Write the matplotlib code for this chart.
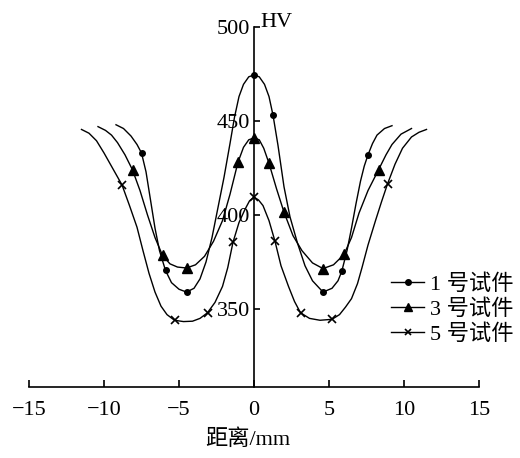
import matplotlib
matplotlib.use('Agg')
import matplotlib.pyplot as plt

plt.rcParams['font.family'] = ['Liberation Serif', 'Noto Sans CJK SC']
plt.rcParams['font.size'] = 16

# specimen 1 (circles) - curve
s1_x = [-9.2, -8.7, -8.2, -7.8, -7.5, -7.2, -6.9, -6.6, -6.3, -5.9, -5.5, -5.0, -4.5,
        -4.0, -3.6, -3.2, -2.8, -2.4, -2.0, -1.6, -1.3, -1.0, -0.7, -0.35, 0,
        0.35, 0.7, 1.0, 1.27, 1.6, 2.0, 2.4, 2.9, 3.4, 3.9, 4.6, 5.2, 5.6, 5.85,
        6.2, 6.5, 6.8, 7.1, 7.35, 7.6, 7.9, 8.2, 8.7, 9.2]
s1_y = [448, 446, 442, 437.5, 433, 423, 408, 393, 381, 370.5, 364, 360.5, 359,
        361, 366, 375, 388, 404, 420, 438, 452, 463, 469.5, 473.5, 474.5,
        473.5, 469.5, 463, 453, 437, 415, 399, 385, 373, 365, 359, 361, 365, 370,
        381, 393, 406, 418, 426, 432, 438, 442.5, 446, 447.5]
s1_mx = [-7.5, -5.9, -4.5, 0, 1.27, 4.6, 5.85, 7.6]
s1_my = [433, 370.5, 359, 474.5, 453, 359, 370, 432]

# specimen 3 (triangles)
s3_x = [-10.4, -9.9, -9.5, -9.1, -8.6, -8.1, -7.6, -7.1, -6.6, -6.1, -5.6, -5.1, -4.5,
        -3.9, -3.3, -2.7, -2.1, -1.6, -1.07, -0.7, -0.35, 0,
        0.35, 0.65, 1.0, 1.5, 2.0, 2.6, 3.2, 3.9, 4.6, 5.3, 6.0, 6.5, 7.0, 7.6,
        8.3, 8.8, 9.2, 9.8, 10.5]
s3_y = [447, 445, 442.5, 438.5, 432, 424, 413, 400, 388, 378.5, 374, 372.3, 371.8,
        373.5, 378, 386, 397, 411, 428, 436, 440, 441,
        440, 435.5, 427.5, 414, 401.5, 389, 381, 374.5, 371.5, 373.5, 379, 388, 401, 413,
        424, 432, 437.5, 443, 446]
s3_mx = [-8.1, -6.1, -4.5, -1.07, 0, 1.0, 2.0, 4.6, 6.0, 8.3]
s3_my = [424, 378.5, 371.8, 428, 441, 427.5, 401.5, 371.5, 379, 424]

# specimen 5 (crosses)
s5_x = [-11.5, -11.0, -10.5, -10.0, -9.4, -8.8, -8.3, -7.8, -7.4, -7.0, -6.6, -6.2, -5.8,
        -5.3, -4.7, -4.1, -3.6, -3.1, -2.6, -2.1, -1.75, -1.4, -1.0, -0.6, -0.3, 0,
        0.3, 0.6, 1.0, 1.4, 1.8, 2.3, 2.7, 3.1, 3.7, 4.4, 5.2, 5.7, 6.1, 6.5, 6.9,
        7.2, 7.6, 8.1, 8.5, 8.9, 9.4, 9.9, 10.5, 11.0, 11.5]
s5_y = [445.5, 443.5, 439.5, 433, 424.5, 416, 405, 393.5, 381, 369, 359, 351.5, 347,
        344, 343.3, 343.5, 345, 348, 353.5, 362, 372, 385.5, 396, 403, 407.5, 409.5,
        408, 405, 397, 386, 373, 362, 354, 348, 345, 344, 344.5, 347, 351, 355.5, 363.5,
        372, 384, 397, 407, 416.5, 427, 435.5, 441.5, 444, 445.5]
s5_mx = [-8.8, -5.3, -3.1, -1.4, 0, 1.4, 3.1, 5.2, 8.9]
s5_my = [416, 344, 348, 385.5, 409.5, 386, 348, 344.5, 416.5]

labels = ['1 号试件', '3 号试件', '5 号试件']
x_ticks = [-15, -10, -5, 0, 5, 10, 15]
y_ticks = [350, 400, 450, 500]

fig = plt.figure(figsize=(5.2, 4.58), dpi=100)
ax = fig.add_axes([29 / 520, 1 - 387 / 458, 450 / 520, 360 / 458])

ax.plot(s1_x, s1_y, color='black', lw=1.0)
ax.plot(s1_mx, s1_my, 'o', color='black', ms=4)
ax.plot(s3_x, s3_y, color='black', lw=1.0)
ax.plot(s3_mx, s3_my, '^', color='black', ms=7.5)
ax.plot(s5_x, s5_y, color='black', lw=1.0)
ax.plot(s5_mx, s5_my, 'x', color='black', ms=6, mew=1.2)

# legend handles
h1, = ax.plot([], [], '-o', color='black', lw=1.0, ms=4)
h3, = ax.plot([], [], '-^', color='black', lw=1.0, ms=6)
h5, = ax.plot([], [], '-x', color='black', lw=1.0, ms=5, mew=1.2)
fig.legend([h1, h3, h5], labels, loc='upper left', bbox_to_anchor=(380 / 520, 1 - 263 / 458),
           frameon=False, borderpad=0, handlelength=1.5, handletextpad=0.25,
           labelspacing=0.2, fontsize=16)

ax.set_xlim(-15, 15)
ax.set_ylim(308.5, 500)
ax.spines['top'].set_visible(False)
ax.spines['right'].set_visible(False)
ax.spines['left'].set_position(('data', 0))
ax.spines['left'].set_bounds(308.5, 500)
ax.spines['bottom'].set_bounds(-15, 15)
for s in ['left', 'bottom']:
    ax.spines[s].set_linewidth(1.2)
ax.set_xticks(x_ticks)
ax.set_yticks(y_ticks)
ax.tick_params(axis='x', direction='in', length=5, width=1.2, pad=10, labelsize=16)
ax.tick_params(axis='y', direction='in', length=4, width=1.2, pad=3, labelsize=16)

ax.text(0.4, 500, 'HV', ha='left', va='baseline', fontsize=16)
fig.text(248 / 520, 1 - 440 / 458, '距离/mm', ha='center', va='center', fontsize=16)

fig.savefig('out.png', dpi=100)
